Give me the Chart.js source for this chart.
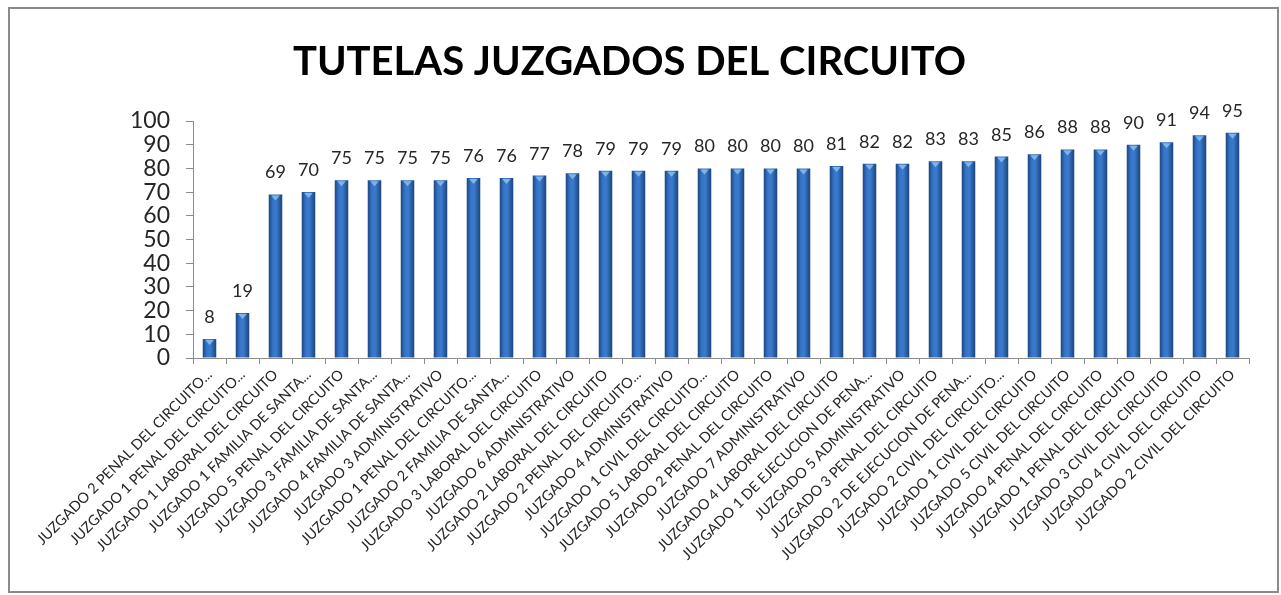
<!DOCTYPE html>
<html>
<head>
<meta charset="utf-8">
<script src="https://cdn.jsdelivr.net/npm/chart.js@4/dist/chart.umd.min.js"></script>
<style>
html,body{margin:0;padding:0;background:#fff;}
#wrap{position:relative;width:1281px;height:595px;}
</style>
</head>
<body>
<div id="wrap"><canvas id="c" width="1281" height="595"></canvas></div>
<script>
const categories = [
  "JUZGADO 2 PENAL DEL CIRCUITO...",
  "JUZGADO 1 PENAL DEL CIRCUITO...",
  "JUZGADO 1 LABORAL DEL CIRCUITO",
  "JUZGADO 1 FAMILIA DE SANTA...",
  "JUZGADO 5 PENAL DEL CIRCUITO",
  "JUZGADO 3 FAMILIA DE SANTA...",
  "JUZGADO 4 FAMILIA DE SANTA...",
  "JUZGADO 3 ADMINISTRATIVO",
  "JUZGADO 1 PENAL DEL CIRCUITO...",
  "JUZGADO 2 FAMILIA DE SANTA...",
  "JUZGADO 3 LABORAL DEL CIRCUITO",
  "JUZGADO 6 ADMINISTRATIVO",
  "JUZGADO 2 LABORAL DEL CIRCUITO",
  "JUZGADO 2 PENAL DEL CIRCUITO...",
  "JUZGADO 4 ADMINISTRATIVO",
  "JUZGADO 1 CIVIL DEL CIRCUITO...",
  "JUZGADO 5 LABORAL DEL CIRCUITO",
  "JUZGADO 2 PENAL DEL CIRCUITO",
  "JUZGADO 7 ADMINISTRATIVO",
  "JUZGADO 4 LABORAL DEL CIRCUITO",
  "JUZGADO 1 DE EJECUCION DE PENA...",
  "JUZGADO 5 ADMINISTRATIVO",
  "JUZGADO 3 PENAL DEL CIRCUITO",
  "JUZGADO 2 DE EJECUCION DE PENA...",
  "JUZGADO 2 CIVIL DEL CIRCUITO...",
  "JUZGADO 1 CIVIL DEL CIRCUITO",
  "JUZGADO 5 CIVIL DEL CIRCUITO",
  "JUZGADO 4 PENAL DEL CIRCUITO",
  "JUZGADO 1 PENAL DEL CIRCUITO",
  "JUZGADO 3 CIVIL DEL CIRCUITO",
  "JUZGADO 4 CIVIL DEL CIRCUITO",
  "JUZGADO 2 CIVIL DEL CIRCUITO"
];
const tutelas = [8, 19, 69, 70, 75, 75, 75, 75, 76, 76, 77, 78, 79, 79, 79, 80, 80, 80, 80, 81, 82, 82, 83, 83, 85, 86, 88, 88, 90, 91, 94, 95];
const yTicks = [0, 10, 20, 30, 40, 50, 60, 70, 80, 90, 100];
const chartTitle = "TUTELAS JUZGADOS DEL CIRCUITO";

function barFill(ctx) {
  const chart = ctx.chart;
  const xs = chart.scales && chart.scales.x;
  if (!xs || ctx.dataIndex === undefined || !chart.chartArea) return '#2e6bb6';
  const cx = xs.getPixelForValue(ctx.dataIndex);
  const w = (xs.width / categories.length) * 0.41;
  const g = chart.ctx.createLinearGradient(cx - w / 2, 0, cx + w / 2, 0);
  g.addColorStop(0, '#1c4680');
  g.addColorStop(0.3, '#3574c6');
  g.addColorStop(0.55, '#3a7bd0');
  g.addColorStop(1, '#1c4479');
  return g;
}

const framePlugin = {
  id: 'frame',
  beforeDraw(chart) {
    const c = chart.ctx;
    c.save();
    c.fillStyle = '#fff';
    c.fillRect(0, 0, chart.width, chart.height);
    c.strokeStyle = '#8a8a8a';
    c.lineWidth = 2;
    c.strokeRect(9, 8, 1269, 584);
    c.restore();
  }
};

const labelPlugin = {
  id: 'valueLabels',
  afterDatasetsDraw(chart) {
    const c = chart.ctx;
    const meta = chart.getDatasetMeta(0);
    c.save();
    meta.data.forEach((bar) => {
      const w = bar.width;
      c.fillStyle = 'rgba(140,190,240,0.85)';
      c.beginPath();
      c.moveTo(bar.x - w * 0.32, bar.y + 1);
      c.lineTo(bar.x + w * 0.32, bar.y + 1);
      c.lineTo(bar.x, bar.y + 6);
      c.closePath();
      c.fill();
    });
    c.font = '18px Lato';
    c.fillStyle = '#262626';
    c.textAlign = 'center';
    c.textBaseline = 'alphabetic';
    meta.data.forEach((bar, i) => {
      c.fillText(String(tutelas[i]), bar.x, bar.y - 16);
    });
    c.restore();
  }
};

new Chart(document.getElementById('c'), {
  type: 'bar',
  data: {
    labels: categories,
    datasets: [{
      data: tutelas,
      backgroundColor: barFill,
      borderWidth: 0,
      barPercentage: 0.41,
      categoryPercentage: 1.0
    }]
  },
  plugins: [framePlugin, labelPlugin],
  options: {
    responsive: false,
    animation: false,
    layout: { padding: { left: 10, right: 32, top: 0, bottom: 0 } },
    plugins: {
      legend: { display: false },
      tooltip: { enabled: false },
      title: {
        display: true,
        text: chartTitle,
        color: '#000',
        font: { family: 'Lato', size: 40, weight: 'bold' },
        padding: { top: 38, bottom: 35 }
      }
    },
    scales: {
      x: {
        grid: { display: true, drawOnChartArea: false, drawTicks: true, tickLength: 6, offset: true, color: '#8c8c8c' },
        border: { display: true, color: '#8c8c8c', width: 1 },
        ticks: {
          autoSkip: false,
          maxRotation: 45,
          minRotation: 45,
          padding: 2,
          color: '#262626',
          font: { family: 'Lato', size: 14.5 }
        },
        afterFit(scale) { scale.height = 595 - 358; }
      },
      y: {
        min: 0,
        max: 100,
        afterBuildTicks(scale) { scale.ticks = yTicks.map(v => ({ value: v })); },
        grid: { display: true, drawOnChartArea: false, drawTicks: true, tickLength: 7, color: '#8c8c8c' },
        border: { display: true, color: '#8c8c8c', width: 1 },
        ticks: {
          autoSkip: false,
          color: '#262626',
          padding: 16,
          font: { family: 'Lato', size: 23 }
        },
        afterFit(scale) { scale.width = 183; }
      }
    }
  }
});
</script>
</body>
</html>
